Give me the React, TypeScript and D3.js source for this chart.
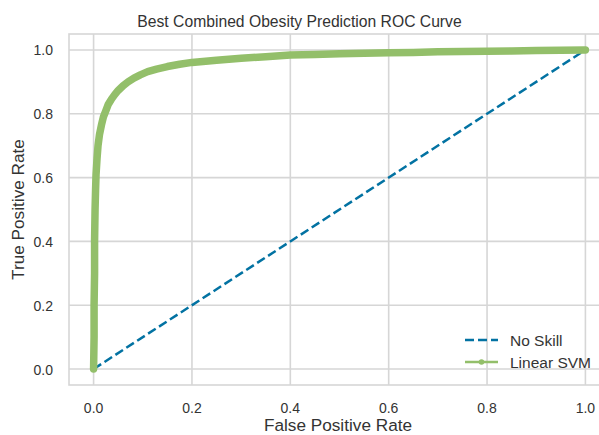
import React from "react";
import * as d3 from "d3";

const fpr = [0, 0.001, 0.001, 0.002, 0.002, 0.003, 0.004, 0.005, 0.007, 0.009, 0.012, 0.016, 0.02, 0.025, 0.03, 0.036, 0.043, 0.05, 0.06, 0.07, 0.082, 0.095, 0.11, 0.128, 0.15, 0.175, 0.2, 0.25, 0.3, 0.35, 0.4, 0.45, 0.5, 0.55, 0.6, 0.65, 0.7, 0.75, 0.8, 0.85, 0.9, 0.95, 1.0];
const tpr = [0, 0.1, 0.2, 0.3, 0.4, 0.5, 0.56, 0.61, 0.66, 0.7, 0.735, 0.765, 0.79, 0.81, 0.83, 0.845, 0.86, 0.873, 0.888, 0.9, 0.912, 0.922, 0.932, 0.94, 0.948, 0.955, 0.961, 0.968, 0.974, 0.979, 0.984, 0.986, 0.988, 0.99, 0.991, 0.992, 0.994, 0.995, 0.996, 0.997, 0.998, 0.999, 1.0];
const noSkillX = [0, 1];
const noSkillY = [0, 1];
const ticks = [0, 0.2, 0.4, 0.6, 0.8, 1.0];
const tickLabels = ["0.0", "0.2", "0.4", "0.6", "0.8", "1.0"];
const seriesNames = ["No Skill", "Linear SVM"];

const W = 599, H = 435;
const L = 69, R = 610, T = 34, B = 385;
const BLUE = "#0272a2";
const GREEN = "#93bf6a";
const GRID = "#d6d6d6";
const FONT = "'Liberation Sans', Arial, sans-serif";
const TXT = "#333333";

export default function App() {
  const x = d3.scaleLinear().domain([-0.05, 1.05]).range([L, R]);
  const y = d3.scaleLinear().domain([-0.05, 1.05]).range([B, T]);
  const line = d3.line<[number, number]>().x(d => x(d[0])).y(d => y(d[1]));
  const roc: [number, number][] = fpr.map((f, i) => [f, tpr[i]]);
  const diag: [number, number][] = noSkillX.map((f, i) => [f, noSkillY[i]]);

  return (
    <svg width={W} height={H} style={{ position: "absolute", left: 0, top: 0, background: "#fff" }}>
      <defs>
        <clipPath id="plot"><rect x={L} y={T} width={R - L} height={B - T} /></clipPath>
      </defs>
      {ticks.map((t, i) => (
        <g key={"g" + i}>
          <line x1={x(t)} x2={x(t)} y1={T} y2={B} stroke={GRID} strokeWidth={1.6} />
          <line x1={L} x2={R} y1={y(t)} y2={y(t)} stroke={GRID} strokeWidth={1.6} />
        </g>
      ))}
      <rect x={L} y={T} width={R - L} height={B - T} fill="none" stroke={GRID} strokeWidth={1.6} />
      <g clipPath="url(#plot)">
        <path d={line(diag) || ""} fill="none" stroke={BLUE} strokeWidth={2.5} strokeDasharray="9,4" />
        <path d={line(roc) || ""} fill="none" stroke={GREEN} strokeWidth={7.5} strokeLinejoin="round" strokeLinecap="round" />
      </g>
      {ticks.map((t, i) => (
        <g key={"t" + i} fontFamily={FONT} fontSize={14} fill={TXT}>
          <text x={x(t)} y={413} textAnchor="middle">{tickLabels[i]}</text>
          <text x={53} y={y(t) + 5.5} textAnchor="end">{tickLabels[i]}</text>
        </g>
      ))}
      <text x={299.5} y={27} textAnchor="middle" fontFamily={FONT} fontSize={15.7} fill={TXT}>Best Combined Obesity Prediction ROC Curve</text>
      <text x={338} y={431} textAnchor="middle" fontFamily={FONT} fontSize={17.2} fill={TXT}>False Positive Rate</text>
      <text transform={`translate(24,${(T + B) / 2}) rotate(-90)`} textAnchor="middle" fontFamily={FONT} fontSize={17.2} fill={TXT}>True Positive Rate</text>
      <g fontFamily={FONT} fontSize={15.5} fill={TXT}>
        <line x1={465} x2={498} y1={340} y2={340} stroke={BLUE} strokeWidth={2.5} strokeDasharray="9,4" />
        <text x={510} y={345.5}>{seriesNames[0]}</text>
        <line x1={465} x2={498} y1={362} y2={362} stroke={GREEN} strokeWidth={2.5} />
        <circle cx={481.5} cy={362} r={2.8} fill={GREEN} />
        <text x={510} y={367.5}>{seriesNames[1]}</text>
      </g>
    </svg>
  );
}
